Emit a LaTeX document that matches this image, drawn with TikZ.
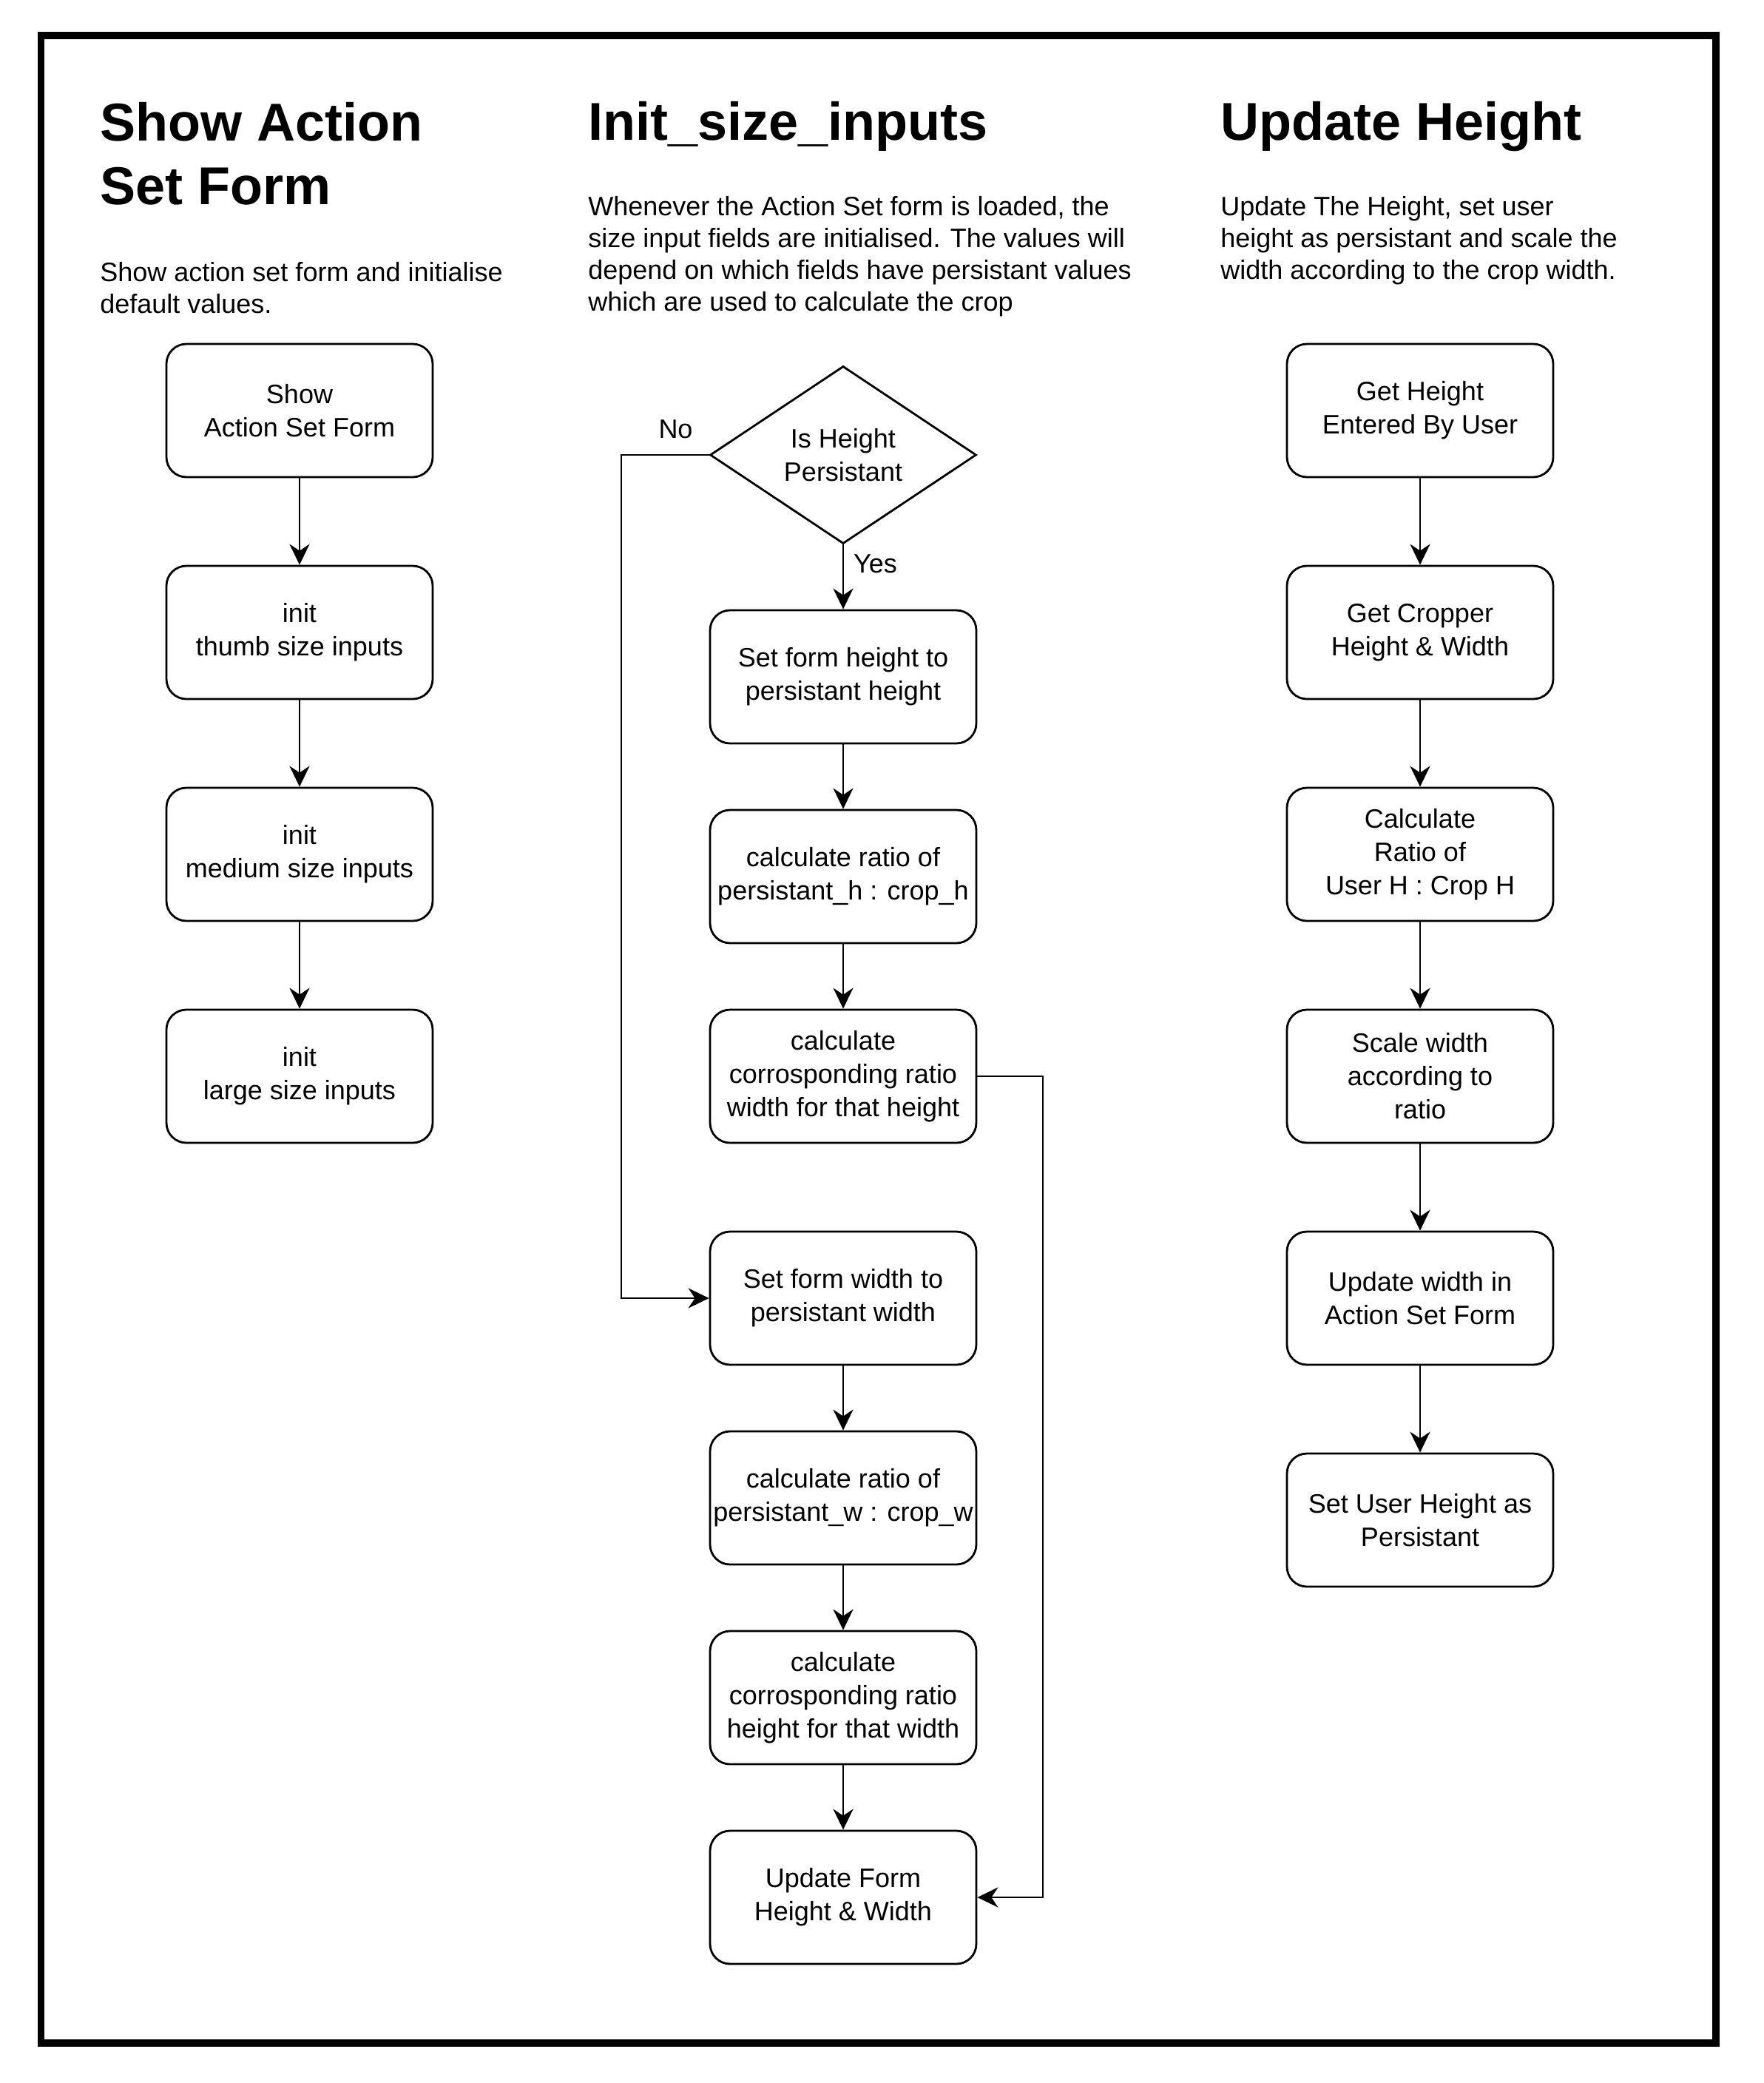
\documentclass[tikz,border=0pt]{standalone}
\usepackage{fontspec}
\setmainfont{Liberation Sans}
\usetikzlibrary{shapes.geometric,arrows.meta}
\tikzset{
  box/.style={draw, line width=1.4pt, rounded corners=13.5pt, minimum width=180pt, minimum height=90pt, inner sep=0pt, align=center, font=\fontsize{18}{22.5}\selectfont},
  decision/.style={draw, line width=1.4pt, shape=diamond, aspect=1.5, minimum width=180pt, minimum height=120pt, inner sep=0pt, align=center, font=\fontsize{18}{22.5}\selectfont},
  arr/.style={line width=1.4pt, -{Stealth[length=14pt, width=13.5pt, inset=4.5pt]}},
  title/.style={anchor=base west, inner sep=0pt, align=left, font=\fontsize{36}{43}\selectfont\bfseries},
  desc/.style={anchor=base west, inner sep=0pt, align=left, font=\fontsize{18}{21.6}\selectfont},
  lbl/.style={inner sep=0pt, font=\fontsize{18}{21.6}\selectfont}
}
\begin{document}
\begin{tikzpicture}[x=1.5pt, y=-1.5pt]
\useasboundingbox (0,0) rectangle (794.667,938.667);
\draw[line width=4.7pt] (18.5,16) rectangle (773.3,920.7);

% titles and descriptions (base anchor = baseline of last line)
\node[title] (t1) at (45,92.0) {Show Action\\Set Form};
\node[title] (t2) at (265,63.3) {Init\_size\_inputs};
\node[title] (t3) at (550,63.3) {Update Height};
\node[desc] (d1) at (45,141.2) {Show action set form and initialise\\default values.};
\node[desc] (d2) at (265,140.3) {Whenever the Action Set form is loaded, the\\size input fields are initialised. The values will\\depend on which fields have persistant values\\which are used to calculate the crop};
\node[desc] (d3) at (550,125.9) {Update The Height, set user\\height as persistant and scale the\\width according to the crop width.};

% left column
\node[box] (l1) at (135,185) {Show\\Action Set Form};
\node[box] (l2) at (135,285) {init\\thumb size inputs};
\node[box] (l3) at (135,385) {init\\medium size inputs};
\node[box] (l4) at (135,485) {init\\large size inputs};
\draw[arr] (l1) -- (l2);
\draw[arr] (l2) -- (l3);
\draw[arr] (l3) -- (l4);

% middle column
\node[decision] (dec) at (380,205) {Is Height\\Persistant};
\node[box] (m1) at (380,305) {Set form height to\\persistant height};
\node[box] (m2) at (380,395) {calculate ratio of\\persistant\_h : crop\_h};
\node[box] (m3) at (380,485) {calculate\\corrosponding ratio\\width for that height};
\node[box] (m4) at (380,585) {Set form width to\\persistant width};
\node[box] (m5) at (380,675) {calculate ratio of\\persistant\_w : crop\_w};
\node[box] (m6) at (380,765) {calculate\\corrosponding ratio\\height for that width};
\node[box] (m7) at (380,855) {Update Form\\Height \& Width};
\node[lbl] (no) at (304.5,193.5) {No};
\node[lbl] (yes) at (394.5,254) {Yes};
\coordinate (nocorner) at (280,205);
\coordinate (rcorner) at (470,485);
\draw[arr] (dec.south) -- (m1);
\draw[arr] (m1) -- (m2);
\draw[arr] (m2) -- (m3);
\draw[arr] (m4) -- (m5);
\draw[arr] (m5) -- (m6);
\draw[arr] (m6) -- (m7);
\draw[arr] (dec.west) -- (nocorner) |- (m4.west);
\draw[arr] (m3.east) -- (rcorner) |- (m7.east);

% right column
\node[box] (r1) at (640,185) {Get Height\\Entered By User};
\node[box] (r2) at (640,285) {Get Cropper\\Height \& Width};
\node[box] (r3) at (640,385) {Calculate\\Ratio of\\User H : Crop H};
\node[box] (r4) at (640,485) {Scale width\\according to\\ratio};
\node[box] (r5) at (640,585) {Update width in\\Action Set Form};
\node[box] (r6) at (640,685) {Set User Height as\\Persistant};
\draw[arr] (r1) -- (r2);
\draw[arr] (r2) -- (r3);
\draw[arr] (r3) -- (r4);
\draw[arr] (r4) -- (r5);
\draw[arr] (r5) -- (r6);
\end{tikzpicture}
\end{document}
